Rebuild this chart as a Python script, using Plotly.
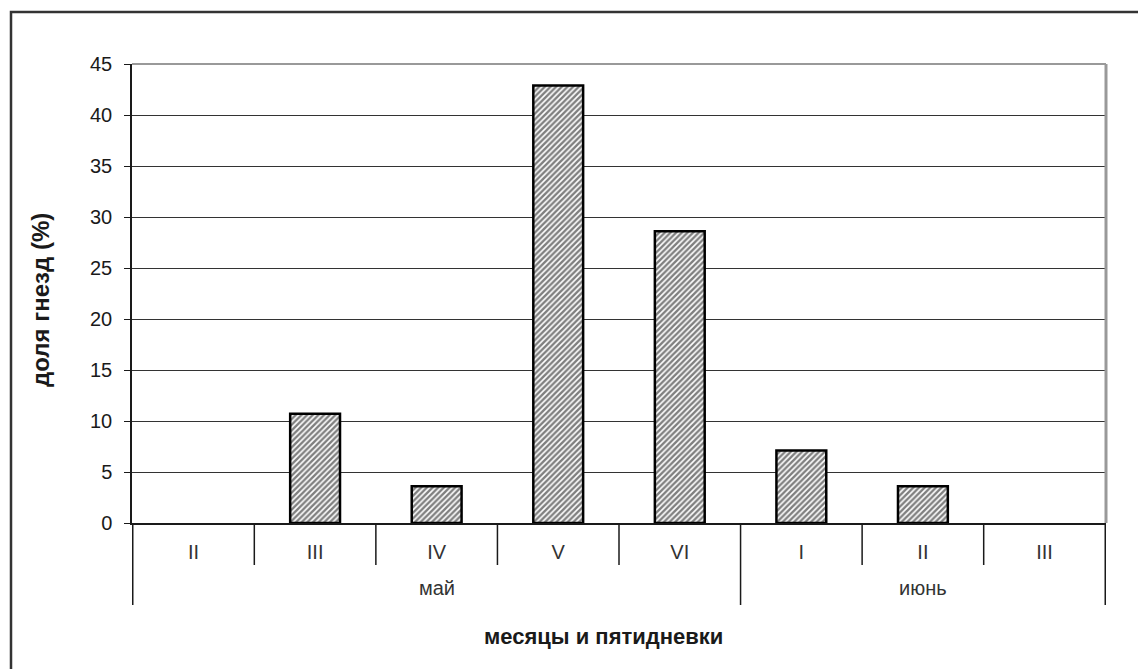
import plotly.graph_objects as go

# ── data ─────────────────────────────────────────────────────────────────────

MONTHS = ["май", "июнь"]
MONTH_SPAN = [5, 3]  # pentads shown in each month
PENTADS = ["II", "III", "IV", "V", "VI", "I", "II", "III"]
NEST_SHARE = [0, 10.7, 3.6, 42.9, 28.6, 7.1, 3.6, 0]
Y_TICKS = [0, 5, 10, 15, 20, 25, 30, 35, 40, 45]

# ── layout constants (page body adds an 8px offset) ─────────────────────────

FONT = "Liberation Sans, Arial, sans-serif"
INK = "#1a1a1a"
PLOT_H = 459  # px height of plot area
PLOT_W = 974

def px_y(px):  # px below the x axis -> paper y
    return -px / PLOT_H

# unique category keys, pentad numerals shown as tick text
month_of = [m for m, n in zip(MONTHS, MONTH_SPAN) for _ in range(n)]
cats = [f"{m} {p}" for m, p in zip(month_of, PENTADS)]

fig = go.Figure(
    go.Bar(
        x=cats,
        y=NEST_SHARE,
        width=0.41,
        marker=dict(
            color="white",
            line=dict(color="black", width=[0 if v == 0 else 2.5 for v in NEST_SHARE]),
            pattern=dict(shape="/", fgcolor="black", bgcolor="white",
                         size=4, solidity=0.6),
        ),
        showlegend=False,
    )
)

shapes = [
    # outer chart frame (runs off the right/bottom edge like the scan)
    dict(type="rect", xref="paper", yref="paper",
         x0=-121 / PLOT_W, x1=1.1, y0=-0.5, y1=511 / PLOT_H,
         line=dict(color="#333333", width=2.5), layer="below"),
    # gray plot-area border on top and right
    dict(type="line", xref="paper", yref="paper", x0=0, x1=1, y0=1, y1=1,
         line=dict(color="#999999", width=2)),
    dict(type="line", xref="paper", yref="paper", x0=1, x1=1, y0=0, y1=1,
         line=dict(color="#999999", width=3)),
]
# pentad boundaries (short) and month boundaries (long)
month_edges = [-0.5]
for n in MONTH_SPAN:
    month_edges.append(month_edges[-1] + n)
for i in range(len(cats) + 1):
    edge = i - 0.5
    long = edge in month_edges
    shapes.append(dict(type="line", xref="x", yref="paper", x0=edge, x1=edge,
                       y0=0, y1=px_y(82 if long else 42),
                       line=dict(color=INK, width=1.5)))

annotations = []
for m, n, start in zip(MONTHS, MONTH_SPAN, month_edges):
    annotations.append(dict(text=m, xref="x", yref="paper", x=start + n / 2,
                            y=px_y(65), showarrow=False, yanchor="middle",
                            font=dict(size=20, color="#333333")))
annotations.append(dict(text="<b>месяцы и пятидневки</b>", xref="paper", yref="paper",
                        x=(603 - 132) / PLOT_W, y=px_y(113), showarrow=False,
                        yanchor="middle", font=dict(size=22, color=INK)))
annotations.append(dict(text="<b>доля гнезд (%)</b>", xref="paper", yref="paper",
                        x=(40 - 132) / PLOT_W, y=(523 - 300) / PLOT_H, textangle=-90,
                        showarrow=False, xanchor="center", yanchor="middle",
                        font=dict(size=24, color=INK)))

fig.update_layout(
    width=1146,
    height=669,
    margin=dict(l=124, r=48, t=56, b=154),
    plot_bgcolor="white",
    paper_bgcolor="white",
    font=dict(family=FONT, size=20, color=INK),
    shapes=shapes,
    annotations=annotations,
)

fig.update_yaxes(
    range=[0, 45],
    tickvals=Y_TICKS,
    ticks="outside",
    ticklen=6,
    tickcolor=INK,
    ticklabelstandoff=8,
    showline=True,
    linecolor=INK,
    linewidth=1.5,
    showgrid=True,
    gridcolor="#333333",
    gridwidth=1,
    zeroline=False,
    tickfont=dict(size=20, color=INK),
)

fig.update_xaxes(
    type="category",
    categoryorder="array",
    categoryarray=cats,
    tickvals=cats,
    ticktext=PENTADS,
    ticks="",
    ticklabelstandoff=10,
    showline=True,
    linecolor=INK,
    linewidth=2,
    showgrid=False,
    tickfont=dict(size=20, color="#333333"),
)

fig.write_html("out.html")
